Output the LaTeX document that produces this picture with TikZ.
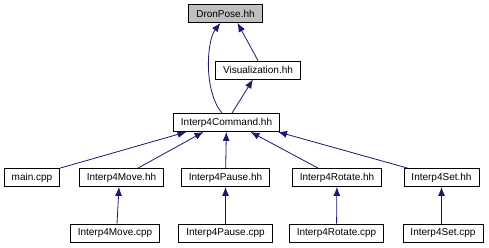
\documentclass[tikz,border=0pt]{standalone}
\usepackage{fontspec}
\setmainfont{Liberation Sans}
\usetikzlibrary{arrows.meta}
\definecolor{edgeblue}{RGB}{25,25,112}
\definecolor{rootgray}{RGB}{191,191,191}

\begin{document}
\begin{tikzpicture}[x=1pt, y=-1pt,
    file/.style={rectangle, draw, line width=0.8pt, inner xsep=7.5pt, inner ysep=0pt, minimum height=18pt, font=\fontsize{10}{12}\selectfont},
    arr/.style={edgeblue, line width=0.8pt, -{Latex[length=9pt, width=7pt]}}
]
\useasboundingbox (0,0) rectangle (489,247);

% headers
\node[file, fill=rootgray] (dron) at (225.5,13.5) {DronPose.hh};
\node[file] (vis) at (258,70) {Visualization.hh};
\node[file] (cmd) at (226.5,122.5) {Interp4Command.hh};

% plugin headers and main
\node[file] (main) at (32,177.5) {main.cpp};
\node[file] (move) at (121.5,177.5) {Interp4Move.hh};
\node[file] (pause) at (225.5,177.5) {Interp4Pause.hh};
\node[file] (rotate) at (337,177.5) {Interp4Rotate.hh};
\node[file] (set) at (441.5,177.5) {Interp4Set.hh};

% plugin sources
\node[file] (movecpp) at (115,233) {Interp4Move.cpp};
\node[file] (pausecpp) at (225.5,233) {Interp4Pause.cpp};
\node[file] (rotatecpp) at (336.5,233) {Interp4Rotate.cpp};
\node[file] (setcpp) at (443,233) {Interp4Set.cpp};

\draw[arr] ([xshift=-4.5]cmd.north) .. controls (203,90) and (207,40) .. ([xshift=-5]dron.south);
\draw[arr] (vis.north) -- ([xshift=12]dron.south);
\draw[arr] ([xshift=5.5]cmd.north) -- ([xshift=-5]vis.south);

\draw[arr] (main.north east) -- ([xshift=-40]cmd.south);
\draw[arr] ([xshift=16.5]move.north) -- ([xshift=-23]cmd.south);
\draw[arr] (pause) -- (cmd);
\draw[arr] ([xshift=-19]rotate.north) -- ([xshift=24]cmd.south);
\draw[arr] ([xshift=4]set.north west) -- ([xshift=-2]cmd.south east);

\draw[arr] ([xshift=2]movecpp.north) -- ([xshift=-2.5]move.south);
\draw[arr] (pausecpp) -- (pause);
\draw[arr] (rotatecpp) -- (rotate);
\draw[arr] ([xshift=-1.5]setcpp.north) -- (set.south);
\end{tikzpicture}
\end{document}
